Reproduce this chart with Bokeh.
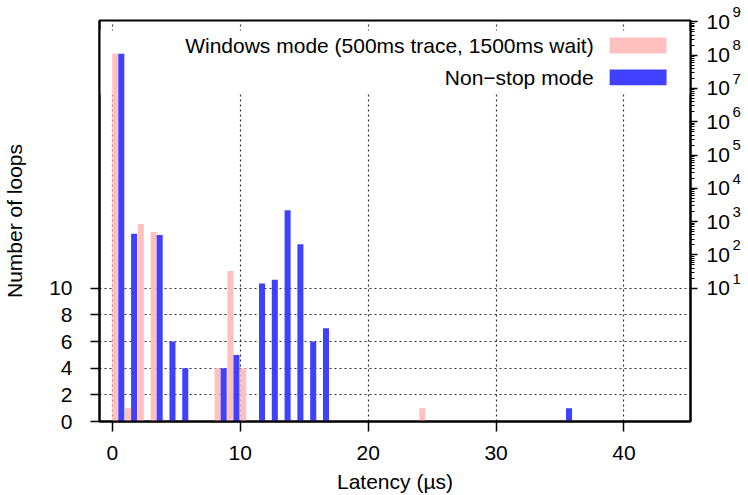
import math
from bokeh.plotting import figure
from bokeh.models import Range1d, LinearAxis, FixedTicker, BoxAnnotation, Label
from bokeh.embed import file_html
from bokeh.resources import INLINE

# ---------------- data ----------------
win_bins = [0, 1, 2, 3, 8, 9, 10, 24]
win_counts = [1.1e8, 1, 850, 490, 4, 33, 4, 1]
ns_bins = [0, 1, 3, 4, 5, 8, 9, 11, 12, 13, 14, 15, 16, 35]
ns_counts = [1.1e8, 430, 400, 6, 4, 4, 5, 14, 18, 2200, 210, 6, 7, 1]
x_ticks = [0, 10, 20, 30, 40]
lin_ticks = [0, 2, 4, 6, 8, 10]
log_exps = [1, 2, 3, 4, 5, 6, 7, 8, 9]
series_names = ["Windows mode (500ms trace, 1500ms wait)", "Non\u2212stop mode"]
x_label = "Latency (\u00b5s)"
y_label = "Number of loops"

# ---------------- styling ----------------
PINK = "#ffc0c0"
BLUE = "#4040ff"
FONT = "Liberation Sans"
FS = "21px"
LIN_MAX = 10.0
DECADE = 2.5          # axis units per decade above LIN_MAX


def hy(v):
    """hybrid scale: linear up to 10, log above"""
    return v if v <= LIN_MAX else LIN_MAX + DECADE * math.log10(v / LIN_MAX)


W, H = 748, 495
BL, BT, FW, FH = 98, 20, 592, 402
BR, BB = W - BL - FW, H - BT - FH
XR = (-1.0, 45.2)
YR = (0.0, 30.1)


def px2x(px):
    return XR[0] + (px - BL) * (XR[1] - XR[0]) / FW


def py2y(py):
    return YR[0] + (BT + FH - py) * (YR[1] - YR[0]) / FH


p = figure(width=W, height=H, x_range=Range1d(*XR), y_range=Range1d(*YR),
           output_backend="svg", toolbar_location=None,
           min_border_left=BL, min_border_right=BR, min_border_top=BT, min_border_bottom=BB,
           background_fill_color="white", border_fill_color="white")
p.outline_line_color = "black"
p.outline_line_width = 2

# grids
p.xgrid.ticker = FixedTicker(ticks=x_ticks)
p.ygrid.ticker = FixedTicker(ticks=lin_ticks[1:])
for g in (p.xgrid, p.ygrid):
    g.grid_line_color = "#303030"
    g.grid_line_dash = "2 3"
    g.grid_line_width = 1.2

# bottom axis
xa = p.xaxis[0]
xa.ticker = FixedTicker(ticks=x_ticks)
xa.minor_tick_line_color = None
xa.major_tick_out = 10
xa.major_tick_in = 0
xa.major_tick_line_width = 1.5
xa.axis_line_width = 2
xa.major_label_text_font = FONT
xa.major_label_text_font_size = FS
xa.major_label_text_color = "black"
xa.major_label_standoff = 14
xa.axis_label = x_label
xa.axis_label_text_font = FONT
xa.axis_label_text_font_size = FS
xa.axis_label_text_font_style = "normal"
xa.axis_label_text_color = "black"
xa.axis_label_standoff = 7

# left axis (linear part)
ya = p.yaxis[0]
ya.ticker = FixedTicker(ticks=lin_ticks)
ya.minor_tick_line_color = None
ya.major_tick_out = 9
ya.major_tick_in = 0
ya.major_tick_line_width = 1.5
ya.axis_line_width = 2
ya.major_label_text_font = FONT
ya.major_label_text_font_size = FS
ya.major_label_text_color = "black"
ya.major_label_standoff = 18
ya.axis_label = y_label
ya.axis_label_text_font = FONT
ya.axis_label_text_font_size = FS
ya.axis_label_text_font_style = "normal"
ya.axis_label_text_color = "black"
ya.axis_label_standoff = 20

# right axis (log part): mantissa "10" labels
major_log = [hy(10.0 ** k) for k in log_exps]
minor_log = [hy(m * 10.0 ** k) for k in log_exps[:-1] for m in range(2, 10)]
ra = LinearAxis(ticker=FixedTicker(ticks=major_log, minor_ticks=minor_log),
                major_label_overrides={t: "10" for t in major_log})
ra.major_tick_out = 7
ra.major_tick_in = 0
ra.minor_tick_out = 4
ra.minor_tick_in = 0
ra.major_tick_line_width = 1.5
ra.minor_tick_line_width = 1.2
ra.axis_line_width = 2
ra.major_label_standoff = 9
ra.major_label_text_font = FONT
ra.major_label_text_font_size = FS
ra.major_label_text_color = "black"
p.add_layout(ra, "right")

# right axis: exponents (raised half a line by a trailing empty line)
ea = LinearAxis(ticker=FixedTicker(ticks=major_log, minor_ticks=[]),
                major_label_overrides={t: "%d\n" % k for t, k in zip(major_log, log_exps)})
ea.axis_line_color = None
ea.major_tick_line_color = None
ea.minor_tick_line_color = None
ea.major_tick_out = 0
ea.major_tick_in = 0
ea.minor_tick_out = 0
ea.minor_tick_in = 0
ea.major_label_standoff = 0
ea.major_label_text_font = FONT
ea.major_label_text_font_size = "15px"
ea.major_label_text_color = "black"
p.add_layout(ea, "right")

# opaque key area (hides grid behind the key)
p.add_layout(BoxAnnotation(top=py2y(30), bottom=py2y(94), fill_color="white", fill_alpha=1.0,
                           line_color=None, level="underlay"))

# bars
p.vbar(x=[b + 0.235 for b in win_bins], top=[hy(c) for c in win_counts], bottom=0,
       width=0.47, fill_color=PINK, line_color=None)
p.vbar(x=[b + 0.705 for b in ns_bins], top=[hy(c) for c in ns_counts], bottom=0,
       width=0.47, fill_color=BLUE, line_color=None)

# key
for i, (name, col) in enumerate(zip(series_names, [PINK, BLUE])):
    yc = 45 + 32 * i
    p.add_layout(Label(x=px2x(593), y=py2y(yc), text=name, text_font=FONT, text_font_size=FS,
                       text_color="black", text_align="right", text_baseline="middle"))
    p.add_layout(BoxAnnotation(left=px2x(609), right=px2x(666), top=py2y(yc - 8), bottom=py2y(yc + 8),
                               fill_color=col, fill_alpha=1.0, line_color=None))

open("out.html", "w").write(file_html(p, INLINE))
